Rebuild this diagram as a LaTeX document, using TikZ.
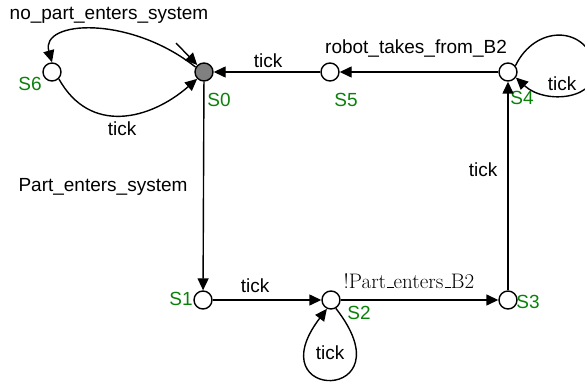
\documentclass[tikz,border=0pt]{standalone}
\usepackage{fontspec}
\newfontfamily\arialfont{Liberation Sans}
\usetikzlibrary{arrows.meta}
\definecolor{lblgreen}{RGB}{10,130,10}
% short baseline rule, as the classic LaTeX \_ draws it
\newcommand\shortbar{\leavevmode\kern.06em\vbox{\hrule width.3em height .9pt}}
\tikzset{
  state/.style={circle,draw,line width=1.4pt,fill=white,minimum size=18pt,inner sep=0pt},
  startstate/.style={state,fill=gray},
  arr/.style={line width=1.4pt,-{Triangle[length=12pt,width=11pt]}},
  sname/.style={text=lblgreen,font=\arialfont\fontsize{19pt}{23pt}\selectfont,inner sep=0pt},
  elabel/.style={font=\arialfont\fontsize{19pt}{23pt}\selectfont,inner sep=0pt},
  mlabel/.style={font=\rmfamily\fontsize{21pt}{25pt}\selectfont,inner sep=0pt}
}
\begin{document}
\begin{tikzpicture}[x=1pt,y=-1pt]
\useasboundingbox (0,0) rectangle (585,385);

% states
\node[startstate] (S0) at (204,72) {};
\node[state] (S6) at (52,72) {};
\node[state] (S5) at (330,72) {};
\node[state] (S4) at (508,72) {};
\node[state] (S1) at (203,300) {};
\node[state] (S2) at (331,300) {};
\node[state] (S3) at (508,300) {};

% state names
\node[sname] (n0) at (219,100) {S0};
\node[sname] (n6) at (30,84) {S6};
\node[sname] (n5) at (346,100) {S5};
\node[sname] (n4) at (522,98) {S4};
\node[sname] (n1) at (181,299) {S1};
\node[sname] (n2) at (359,313) {S2};
\node[sname] (n3) at (528,302) {S3};

% initial marker
\coordinate (init) at (176,43);
\draw[arr] (init) -- (S0);

% transitions
\draw[arr] (S0) -- (S1);
\draw[arr] (S1) -- (S2);
\draw[arr] (S2) -- (S3);
\draw[arr] (S3) -- (S4);
\draw[arr] (S4) -- (S5);
\draw[arr] (S5) -- (S0);
\draw[arr] (S0.150) .. controls (130,15) and (40,20) .. (S6.north);
\draw[arr] (S6.-45) .. controls (90,135) and (150,120) .. (S0.-135);
\draw[arr] (S4.40) .. controls (535,25) and (585,25) .. (595,65)
           .. controls (600,100) and (545,105) .. (S4.-35);
\draw[arr] (S2.-60) .. controls (410,403) and (255,403) .. (S2.-115);

% transition labels
\node[elabel] (l60) at (109,15) {no\_part\_enters\_system};
\node[elabel] (l06) at (122,129) {tick};
\node[elabel] (l50) at (268,61) {tick};
\node[elabel] (l45) at (416,49) {robot\_takes\_from\_B2};
\node[elabel] (l44) at (562,84) {tick};
\node[elabel] (l34) at (483,170) {tick};
\node[elabel] (l01) at (103,187) {Part\_enters\_system};
\node[elabel] (l12) at (255,286) {tick};
\node[mlabel] (l23) at (409,281) {!Part\shortbar enters\shortbar B2};
\node[elabel] (l22) at (330,353) {tick};
\end{tikzpicture}
\end{document}
